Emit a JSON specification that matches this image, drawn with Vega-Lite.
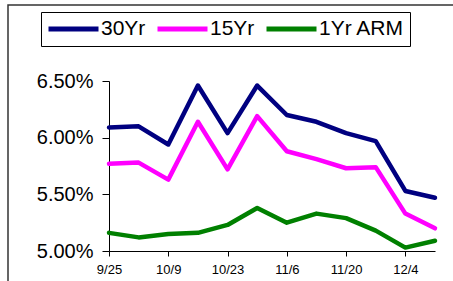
{
  "$schema": "https://vega.github.io/schema/vega-lite/v6.json",
  "autosize": {"type": "none"},
  "padding": {"left": 8, "top": 5, "right": 0, "bottom": 0},
  "width": 460,
  "height": 290,
  "background": "white",
  "config": {
    "view": {"stroke": "#333333", "strokeWidth": 1.5},
    "font": "Liberation Sans"
  },
  "data": {
    "values": [
      {"week": "9/25", "series": "30Yr", "rate": 0.0609},
      {"week": "10/2", "series": "30Yr", "rate": 0.0610},
      {"week": "10/9", "series": "30Yr", "rate": 0.0594},
      {"week": "10/16", "series": "30Yr", "rate": 0.0646},
      {"week": "10/23", "series": "30Yr", "rate": 0.0604},
      {"week": "10/30", "series": "30Yr", "rate": 0.0646},
      {"week": "11/6", "series": "30Yr", "rate": 0.0620},
      {"week": "11/13", "series": "30Yr", "rate": 0.0614},
      {"week": "11/20", "series": "30Yr", "rate": 0.0604},
      {"week": "11/27", "series": "30Yr", "rate": 0.0597},
      {"week": "12/4", "series": "30Yr", "rate": 0.0553},
      {"week": "12/11", "series": "30Yr", "rate": 0.0547},
      {"week": "9/25", "series": "15Yr", "rate": 0.0577},
      {"week": "10/2", "series": "15Yr", "rate": 0.0578},
      {"week": "10/9", "series": "15Yr", "rate": 0.0563},
      {"week": "10/16", "series": "15Yr", "rate": 0.0614},
      {"week": "10/23", "series": "15Yr", "rate": 0.0572},
      {"week": "10/30", "series": "15Yr", "rate": 0.0619},
      {"week": "11/6", "series": "15Yr", "rate": 0.0588},
      {"week": "11/13", "series": "15Yr", "rate": 0.0581},
      {"week": "11/20", "series": "15Yr", "rate": 0.0573},
      {"week": "11/27", "series": "15Yr", "rate": 0.0574},
      {"week": "12/4", "series": "15Yr", "rate": 0.0533},
      {"week": "12/11", "series": "15Yr", "rate": 0.0520},
      {"week": "9/25", "series": "1Yr ARM", "rate": 0.0516},
      {"week": "10/2", "series": "1Yr ARM", "rate": 0.0512},
      {"week": "10/9", "series": "1Yr ARM", "rate": 0.0515},
      {"week": "10/16", "series": "1Yr ARM", "rate": 0.0516},
      {"week": "10/23", "series": "1Yr ARM", "rate": 0.0523},
      {"week": "10/30", "series": "1Yr ARM", "rate": 0.0538},
      {"week": "11/6", "series": "1Yr ARM", "rate": 0.0525},
      {"week": "11/13", "series": "1Yr ARM", "rate": 0.0533},
      {"week": "11/20", "series": "1Yr ARM", "rate": 0.0529},
      {"week": "11/27", "series": "1Yr ARM", "rate": 0.0518},
      {"week": "12/4", "series": "1Yr ARM", "rate": 0.0503},
      {"week": "12/11", "series": "1Yr ARM", "rate": 0.0509}
    ]
  },
  "mark": {"type": "line", "strokeWidth": 4.5, "strokeJoin": "round", "strokeCap": "round"},
  "encoding": {
    "x": {
      "field": "week",
      "type": "ordinal",
      "sort": null,
      "scale": {"type": "point", "padding": 0, "range": [101, 427]},
      "axis": {
        "title": null,
        "orient": "bottom",
        "offset": -44,
        "values": ["9/25", "10/9", "10/23", "11/6", "11/20", "12/4"],
        "labelAngle": 0,
        "labelFontSize": 13,
        "labelColor": "black",
        "labelPadding": 7,
        "tickSize": 5,
        "tickColor": "black",
        "domainColor": "black",
        "grid": false
      }
    },
    "y": {
      "field": "rate",
      "type": "quantitative",
      "scale": {"domain": [0.05, 0.065], "range": [246, 76], "zero": false, "nice": false},
      "axis": {
        "title": null,
        "orient": "left",
        "offset": -101,
        "values": [0.05, 0.055, 0.06, 0.065],
        "format": ".2%",
        "labelFontSize": 20,
        "labelColor": "black",
        "labelPadding": 9,
        "tickSize": 7,
        "tickColor": "black",
        "domainColor": "black",
        "grid": false
      }
    },
    "color": {
      "field": "series",
      "type": "nominal",
      "sort": ["30Yr", "15Yr", "1Yr ARM"],
      "scale": {"domain": ["30Yr", "15Yr", "1Yr ARM"], "range": ["#000080", "#FF00FF", "#008000"]},
      "legend": {
        "title": null,
        "orient": "none",
        "legendX": 33,
        "legendY": 7,
        "direction": "horizontal",
        "gridAlign": "each",
        "symbolType": "stroke",
        "symbolSize": 2500,
        "symbolStrokeWidth": 5,
        "clipHeight": 24,
        "labelFontSize": 21,
        "labelColor": "black",
        "labelOffset": 0,
        "columnPadding": 9,
        "padding": 5,
        "strokeColor": "black",
        "fillColor": "white"
      }
    }
  }
}
